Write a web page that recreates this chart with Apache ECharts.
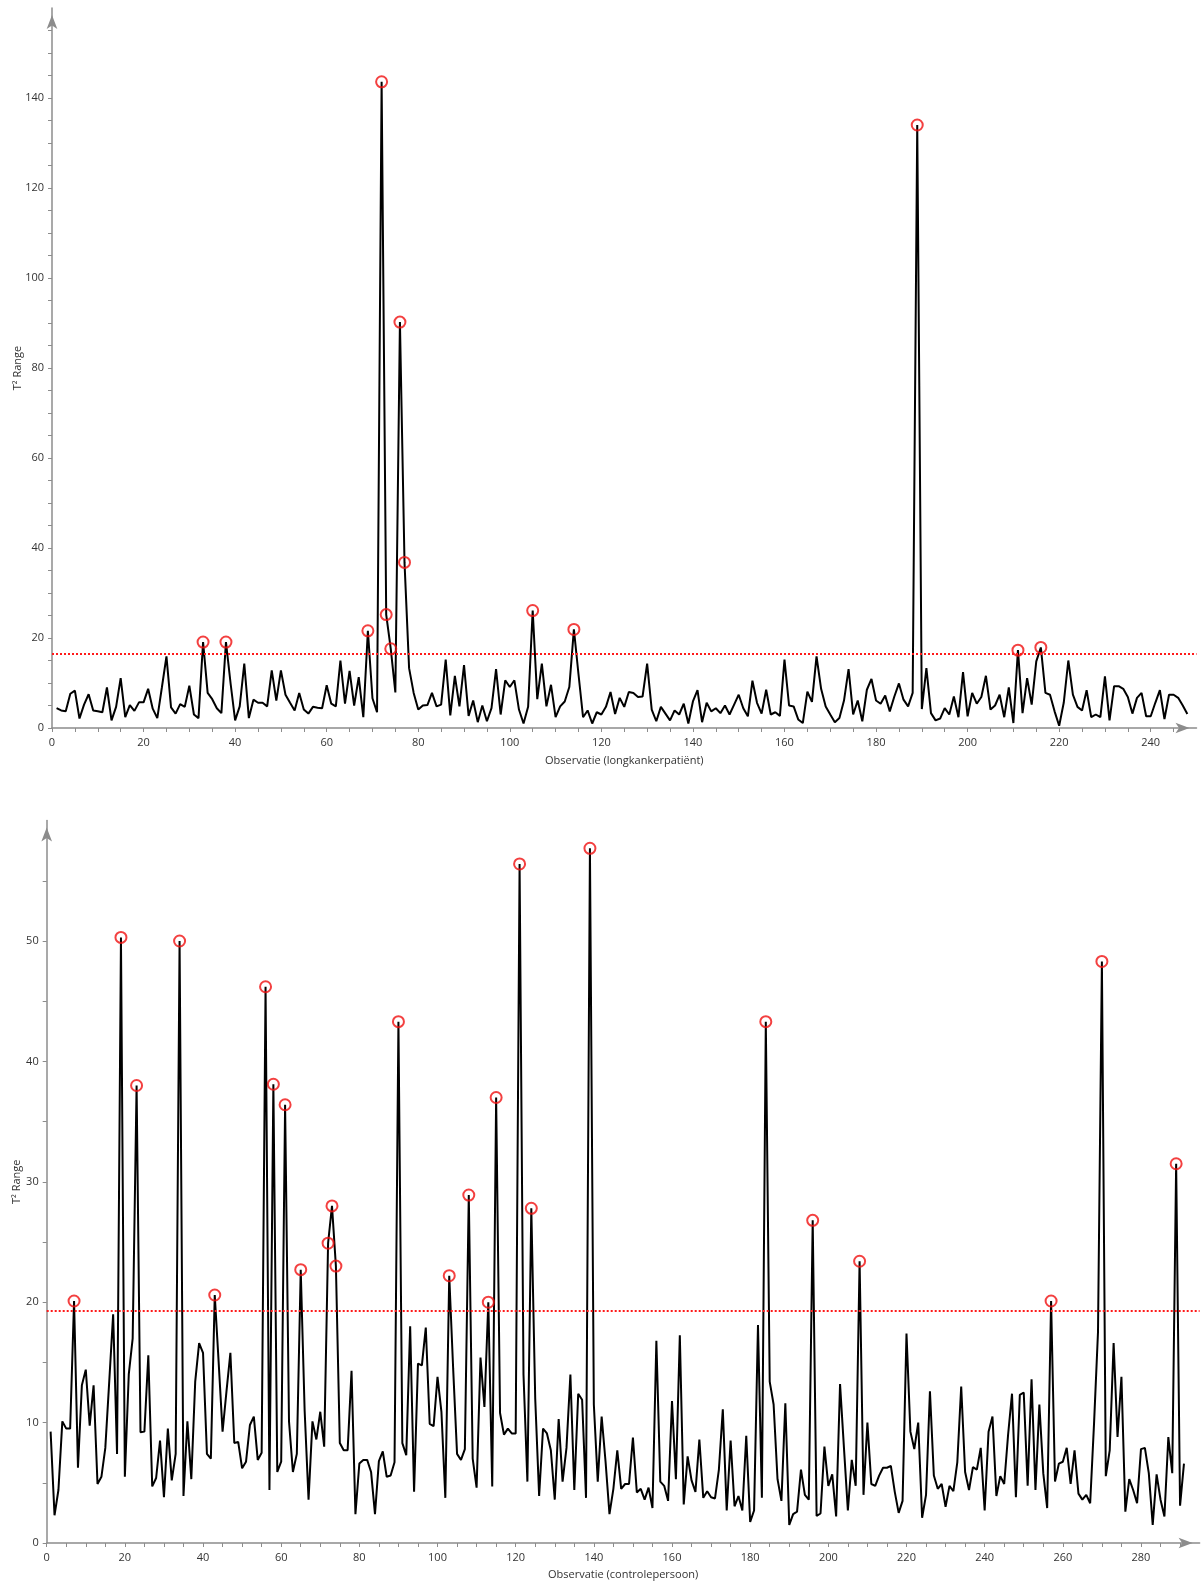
<!DOCTYPE html>
<html>

<head>
    <meta charset="utf-8">
    <title>T2 Range</title>
    <style>
        html, body { margin: 0; padding: 0; background: #fff; }
        #chart { width: 1203px; height: 1584px; }
    </style>
</head>

<body>
    <div id="chart"></div>
    <script src="https://cdn.jsdelivr.net/npm/echarts@6/dist/echarts.min.js"></script>
    <script>
    // longkankerpatiënten, observatie 1..248
    var patientValues = [
        4.4, 3.9, 3.7, 7.6, 8.3, 2.1, 5.2, 7.5, 3.9, 3.7,
        3.5, 9.0, 1.7, 4.7, 11.1, 2.4, 5.1, 3.8, 5.7, 5.7,
        8.7, 4.3, 2.2, 9.0, 15.9, 4.6, 3.2, 5.3, 4.7, 9.4,
        3.0, 2.2, 19.1, 7.8, 6.4, 4.4, 3.3, 19.1, 10.0, 1.7,
        4.8, 14.3, 2.2, 6.3, 5.6, 5.6, 4.8, 12.8, 6.1, 12.8,
        7.4, 5.6, 3.9, 7.8, 4.1, 3.2, 4.7, 4.5, 4.4, 9.5,
        5.4, 4.8, 15.0, 5.4, 12.7, 5.0, 11.3, 2.4, 21.6, 6.6,
        3.5, 143.6, 25.2, 17.6, 7.9, 90.2, 36.8, 13.3, 7.8, 4.1,
        5.0, 5.1, 7.8, 4.8, 5.2, 15.2, 2.8, 11.6, 4.8, 14.0,
        2.7, 6.1, 1.3, 5.0, 1.5, 4.4, 13.1, 3.0, 10.6, 9.1,
        10.6, 4.1, 1.0, 4.7, 26.1, 6.4, 14.3, 4.8, 9.6, 2.4,
        4.8, 5.9, 9.1, 21.9, 12.0, 2.4, 3.9, 1.0, 3.5, 3.0,
        4.7, 8.0, 3.1, 6.7, 4.7, 8.0, 7.8, 6.9, 7.0, 14.3,
        4.1, 1.5, 4.7, 3.2, 1.7, 3.9, 3.0, 5.4, 1.0, 5.9,
        8.4, 1.3, 5.6, 3.7, 4.4, 3.3, 5.0, 3.0, 5.2, 7.4,
        4.4, 2.6, 10.5, 5.6, 3.2, 8.5, 3.0, 3.5, 2.7, 15.2,
        5.0, 4.8, 1.9, 1.1, 8.1, 5.8, 15.9, 8.7, 4.8, 3.0,
        1.3, 2.2, 6.1, 13.1, 3.0, 6.1, 1.5, 8.5, 10.9, 6.1,
        5.4, 7.2, 3.7, 7.0, 9.9, 6.3, 4.8, 7.8, 134.0, 4.2,
        13.3, 3.3, 1.7, 2.1, 4.4, 3.0, 7.0, 2.4, 12.4, 2.6,
        7.8, 5.4, 6.9, 11.6, 4.1, 5.0, 7.4, 2.4, 9.0, 1.1,
        17.3, 3.3, 11.1, 5.2, 14.8, 17.9, 7.8, 7.4, 3.7, 0.5,
        5.6, 15.0, 7.4, 4.7, 3.9, 8.4, 2.4, 3.0, 2.4, 11.5,
        1.7, 9.3, 9.3, 8.7, 6.9, 3.2, 6.7, 7.8, 2.6, 2.6,
        5.6, 8.4, 2.0, 7.4, 7.4, 6.7, 5.0, 3.1
    ];
    var patientOutliers = [33, 38, 69, 72, 73, 74, 76, 77, 105, 114, 189, 211, 216];
    var patientLimit = 16.5;

    // controlepersonen, observatie 1..291
    var controlValues = [
        9.25, 2.3, 4.4, 10.1, 9.5, 9.5, 20.1, 6.25, 13.1, 14.4,
        9.75, 13.1, 4.9, 5.5, 7.9, 13.4, 19.0, 7.4, 50.3, 5.5,
        14.0, 17.0, 38.0, 9.2, 9.25, 15.6, 4.7, 5.4, 8.5, 3.8,
        9.5, 5.2, 7.4, 50.0, 3.9, 10.1, 5.3, 13.4, 16.6, 15.8,
        7.4, 7.0, 20.6, 15.0, 9.25, 12.6, 15.8, 8.3, 8.4, 6.2,
        6.75, 9.8, 10.5, 6.9, 7.5, 46.2, 4.4, 38.1, 5.9, 6.75,
        36.4, 10.1, 5.9, 7.4, 22.7, 11.0, 3.6, 10.1, 8.6, 10.9,
        8.0, 24.9, 28.0, 23.0, 8.3, 7.7, 7.7, 14.3, 2.4, 6.6,
        6.9, 6.9, 5.9, 2.4, 6.8, 7.6, 5.5, 5.6, 6.7, 43.3,
        8.3, 7.3, 18.0, 4.25, 14.9, 14.75, 17.9, 9.9, 9.7, 13.8,
        10.9, 3.75, 22.2, 14.5, 7.4, 6.9, 7.8, 28.9, 7.0, 4.6,
        15.4, 11.3, 20.0, 4.7, 37.0, 10.8, 9.0, 9.5, 9.1, 9.1,
        56.4, 14.0, 5.1, 27.8, 12.0, 3.9, 9.5, 9.1, 7.7, 3.6,
        10.3, 5.1, 7.9, 14.0, 4.4, 12.4, 11.9, 3.75, 57.7, 11.5,
        5.1, 10.5, 6.75, 2.4, 4.5, 7.7, 4.5, 4.9, 4.9, 8.75,
        4.2, 4.5, 3.6, 4.6, 2.9, 16.8, 5.1, 4.75, 3.5, 11.8,
        5.3, 17.25, 3.2, 7.2, 5.2, 4.25, 8.6, 3.75, 4.3, 3.8,
        3.7, 6.1, 11.1, 2.7, 8.5, 3.05, 3.9, 2.7, 8.9, 1.75,
        2.7, 18.1, 3.75, 43.3, 13.4, 11.5, 5.3, 3.5, 11.6, 1.5,
        2.4, 2.6, 6.1, 4.0, 3.6, 26.8, 2.25, 2.45, 8.0, 4.75,
        5.7, 2.2, 13.2, 7.9, 2.7, 6.9, 4.75, 23.4, 4.0, 10.0,
        4.9, 4.75, 5.6, 6.25, 6.25, 6.4, 4.25, 2.5, 3.5, 17.4,
        9.25, 7.8, 10.0, 2.1, 4.0, 12.6, 5.6, 4.5, 4.9, 3.0,
        4.75, 4.3, 6.7, 13.0, 5.9, 4.4, 6.3, 6.1, 7.9, 2.7,
        9.25, 10.5, 3.9, 5.55, 4.9, 9.0, 12.4, 3.8, 12.3, 12.5,
        4.75, 13.6, 4.4, 11.5, 5.8, 2.9, 20.1, 5.1, 6.6, 6.75,
        7.9, 4.9, 7.7, 4.1, 3.6, 4.0, 3.3, 10.0, 17.5, 48.3,
        5.55, 7.7, 16.6, 8.8, 13.8, 2.6, 5.3, 4.4, 3.3, 7.8,
        7.9, 5.8, 1.5, 5.7, 3.6, 2.2, 8.8, 5.8, 31.5, 3.1,
        6.6
    ];
    var controlOutliers = [7, 19, 23, 34, 43, 56, 58, 61, 65, 72, 73, 74, 90, 103, 108, 113,
        115, 121, 124, 139, 184, 196, 208, 257, 270, 289];
    var controlLimit = 19.33;

    // as-indeling
    var patientXLabels = [0, 20, 40, 60, 80, 100, 120, 140, 160, 180, 200, 220, 240];
    var patientYLabels = [0, 20, 40, 60, 80, 100, 120, 140];
    var controlXLabels = [0, 20, 40, 60, 80, 100, 120, 140, 160, 180, 200, 220, 240, 260, 280];
    var controlYLabels = [0, 10, 20, 30, 40, 50];

    function steps(from, to, step) {
        var out = [];
        for (var v = from; v <= to; v += step) out.push(v);
        return out;
    }

    function points(values) {
        return values.map(function(v, i) { return [i + 1, v]; });
    }

    function picked(values, idx) {
        return idx.map(function(n) { return [n, values[n - 1]]; });
    }

    var font = '"Open Sans", "Noto Sans", sans-serif';
    var axisGrey = '#8c8c8c';
    var textColor = '#333';

    function axis(opt) {
        return {
            type: 'value',
            gridIndex: opt.grid,
            min: 0,
            max: opt.max,
            name: opt.name,
            nameLocation: 'middle',
            nameGap: opt.nameGap,
            nameMoveOverlap: false,
            nameTextStyle: { fontFamily: font, fontSize: 11, color: textColor },
            axisLine: {
                show: true,
                symbol: ['none', 'arrow'],
                symbolSize: [8, 14],
                symbolOffset: [0, -7],
                lineStyle: { color: axisGrey, width: 1.5 }
            },
            axisTick: {
                show: true,
                length: 4,
                customValues: opt.ticks,
                lineStyle: { color: axisGrey, width: 1 }
            },
            axisLabel: {
                customValues: opt.labels,
                margin: opt.margin,
                fontFamily: font,
                fontSize: 11,
                color: textColor
            },
            splitLine: { show: false }
        };
    }

    function limitLine(value) {
        return {
            silent: true,
            symbol: ['none', 'none'],
            label: { show: false },
            lineStyle: { color: '#ff1a1a', width: 2, type: [2, 2] },
            data: [{ yAxis: value }]
        };
    }

    var chart = echarts.init(document.getElementById('chart'));

    var option = {
        animation: false,
        backgroundColor: '#fff',
        grid: [
            { left: 52, top: 8, width: 1144.5, height: 720, containLabel: false, outerBoundsMode: 'none' },
            { left: 46.7, top: 820.6, width: 1152.9, height: 722.4, containLabel: false, outerBoundsMode: 'none' }
        ],
        xAxis: [
            axis({ grid: 0, max: 250, name: 'Observatie (longkankerpatiënt)', nameGap: 27,
                ticks: steps(0, 245, 5), labels: patientXLabels, margin: 9 }),
            axis({ grid: 1, max: 295, name: 'Observatie (controlepersoon)', nameGap: 26,
                ticks: steps(0, 290, 5), labels: controlXLabels, margin: 9 })
        ],
        yAxis: [
            axis({ grid: 0, max: 160, name: 'T² Range', nameGap: 29,
                ticks: steps(0, 155, 5), labels: patientYLabels, margin: 8 }),
            axis({ grid: 1, max: 60, name: 'T² Range', nameGap: 24,
                ticks: steps(0, 55, 5), labels: controlYLabels, margin: 8 })
        ],
        series: [{
            type: 'line',
            xAxisIndex: 0,
            yAxisIndex: 0,
            showSymbol: false,
            lineStyle: { color: '#000', width: 2 },
            data: points(patientValues),
            markLine: limitLine(patientLimit),
            z: 2
        }, {
            type: 'scatter',
            xAxisIndex: 0,
            yAxisIndex: 0,
            symbol: 'circle',
            symbolSize: 11,
            itemStyle: { color: 'transparent', borderColor: '#f01010', borderWidth: 2 },
            data: picked(patientValues, patientOutliers),
            z: 3
        }, {
            type: 'line',
            xAxisIndex: 1,
            yAxisIndex: 1,
            showSymbol: false,
            lineStyle: { color: '#000', width: 2 },
            data: points(controlValues),
            markLine: limitLine(controlLimit),
            z: 2
        }, {
            type: 'scatter',
            xAxisIndex: 1,
            yAxisIndex: 1,
            symbol: 'circle',
            symbolSize: 11,
            itemStyle: { color: 'transparent', borderColor: '#f01010', borderWidth: 2 },
            data: picked(controlValues, controlOutliers),
            z: 3
        }]
    };

    chart.setOption(option);
    addEventListener('resize', chart.resize);
    </script>
</body>

</html>
